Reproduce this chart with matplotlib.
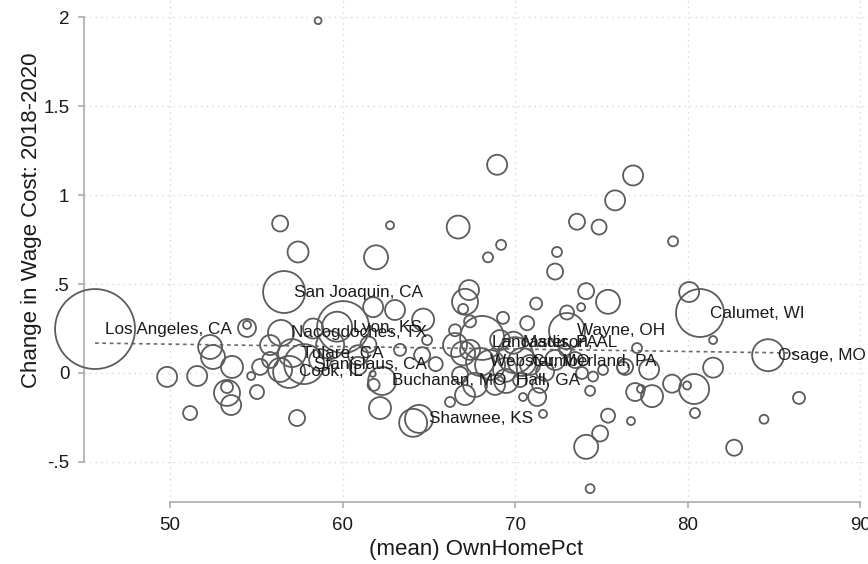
import matplotlib
matplotlib.use("Agg")
import matplotlib.pyplot as plt
import numpy as np

plt.rcParams["font.family"] = ["Liberation Sans", "DejaVu Sans"]

# county scatter: (mean) OwnHomePct vs change in wage cost, weighted markers
own_home = [
    58.58, 56.38, 57.42, 62.75, 66.70, 61.94, 69.19, 68.43, 72.43, 72.32,
    73.59, 74.87, 75.80, 76.84, 79.16, 68.96, 56.61, 54.46, 54.46, 56.43,
    60.03, 59.68, 61.77, 58.29, 63.04, 64.67, 67.33, 67.10, 66.99, 71.22,
    74.12, 73.83, 75.39, 69.30, 68.09, 73.01, 70.70, 73.01, 80.09, 80.72,
    81.48, 84.67, 77.07, 77.77, 81.48, 80.38, 79.97, 79.10, 76.96, 77.94,
    77.30, 76.38, 86.46, 84.43, 80.43, 76.72, 82.70, 74.35, 74.12, 74.93,
    75.39, 71.62, 71.28, 70.46, 74.35, 74.52, 75.10, 76.26, 64.09, 64.43,
    66.23, 67.10, 62.17, 62.29, 61.80, 61.75, 64.61, 63.33, 66.99, 45.65,
    52.32, 52.49, 53.59, 49.83, 51.57, 53.30, 53.30, 53.54, 51.16, 55.04,
    54.70, 55.22, 57.36, 57.77, 57.07, 56.90, 55.80, 56.38, 58.70, 59.28,
    55.80, 66.52, 67.39, 68.55, 69.42, 68.84, 70.00, 70.87, 71.74, 72.32,
    71.45, 70.29, 66.81, 67.68, 66.52, 67.39, 64.90, 69.13, 72.90, 73.48,
    73.88, 67.97, 70.41, 69.90, 69.48, 60.90, 61.50, 60.90, 65.40,
]
wage_change = [
    1.98, 0.84, 0.68, 0.83, 0.82, 0.65, 0.72, 0.65, 0.68, 0.57,
    0.85, 0.82, 0.97, 1.11, 0.74, 1.17, 0.455, 0.253, 0.27, 0.225,
    0.258, 0.26, 0.37, 0.25, 0.354, 0.30, 0.466, 0.40, 0.36, 0.39,
    0.46, 0.37, 0.40, 0.31, 0.197, 0.236, 0.28, 0.34, 0.455, 0.337,
    0.185, 0.10, 0.14, 0.02, 0.03, -0.09, -0.07, -0.06, -0.107, -0.13,
    -0.09, 0.034, -0.14, -0.26, -0.225, -0.27, -0.42, -0.65, -0.415, -0.34,
    -0.24, -0.23, -0.135, -0.135, -0.10, -0.02, 0.017, 0.03, -0.28, -0.258,
    -0.163, -0.124, -0.197, -0.045, -0.067, -0.005, 0.10, 0.13, 0.11, 0.247,
    0.146, 0.09, 0.034, -0.022, -0.017, -0.112, -0.079, -0.18, -0.225, -0.107,
    -0.017, 0.034, -0.253, 0.05, 0.112, 0.006, 0.157, 0.017, 0.073, 0.157,
    0.073, 0.157, 0.13, 0.045, 0.017, -0.067, 0.10, 0.045, 0.006, 0.073,
    -0.067, -0.04, -0.01, -0.067, 0.24, 0.29, 0.185, 0.185, 0.13, 0.073,
    0.0, 0.062, 0.062, 0.17, -0.045, 0.10, 0.16, 0.04, 0.05,
]
weight = [
    12, 64, 110, 16, 132, 144, 25, 25, 25, 64,
    64, 56, 100, 100, 25, 100, 441, 81, 16, 169,
    676, 225, 100, 100, 100, 121, 100, 169, 25, 36,
    64, 16, 144, 36, 484, 324, 49, 49, 100, 576,
    16, 256, 25, 100, 100, 225, 16, 81, 81, 121,
    16, 64, 36, 20, 25, 16, 64, 20, 144, 64,
    49, 16, 81, 16, 25, 25, 25, 36, 196, 196,
    25, 100, 121, 196, 36, 9, 64, 36, 144, 1600,
    144, 144, 121, 100, 100, 169, 36, 100, 49, 49,
    16, 64, 64, 400, 196, 256, 100, 144, 121, 196,
    64, 144, 100, 225, 144, 100, 324, 100, 81, 100,
    64, 49, 64, 144, 36, 36, 25, 100, 36, 64,
    36, 196, 196, 121, 144, 100, 64, 81, 49,
]

# labelled counties
label_names = ["Los Angeles, CA", "San Joaquin, CA", "Lyon, KS", "Nacogdoches, TX",
               "Tulare, CA", "Stanislaus, CA", "Cook, IL", "Buchanan, MO", "Hall, GA",
               "Shawnee, KS", "Lancaster, PA", "Madison, AL", "Wayne, OH",
               "Webster, MO", "Cumberland, PA", "Calumet, WI", "Osage, MO"]
label_x = [45.65, 56.61, 60.03, 56.43, 57.07, 57.77, 56.90, 62.29, 69.48,
           64.43, 68.09, 69.90, 73.01, 67.97, 70.41, 80.72, 84.67]
label_y = [0.247, 0.455, 0.258, 0.225, 0.112, 0.05, 0.006, -0.045, -0.045,
           -0.258, 0.17, 0.17, 0.236, 0.062, 0.062, 0.337, 0.10]

# linear fit endpoints
fit_x = [45.65, 86.46]
fit_y = [0.168, 0.112]

fig = plt.figure(figsize=(8.68, 5.64), dpi=100)
ax = fig.add_axes([84 / 868, 62 / 564, 784 / 868, 502 / 564])

ax.set_xlim(45.01, 90.46)
ax.set_ylim(-0.725, 2.096)

sizes = np.array(weight) * 2.07
ax.scatter(own_home, wage_change, s=sizes, facecolors="none",
           edgecolors="#5c5c5c", linewidths=1.3, clip_on=False, zorder=3)
ax.plot(fit_x, fit_y, color="#6a6a6a", linestyle=(0, (2.2, 2.2)),
        linewidth=1.2, zorder=2)

for name, lx, ly in zip(label_names, label_x, label_y):
    ax.annotate(name, (lx, ly), xytext=(7, 0), textcoords="offset points",
                ha="left", va="center", fontsize=12.3, color="#1a1a1a",
                zorder=4)

ax.set_xticks([50, 60, 70, 80, 90])
ax.set_yticks([-0.5, 0, 0.5, 1, 1.5, 2])
ax.set_yticklabels(["-.5", "0", ".5", "1", "1.5", "2"])
ax.grid(True, color="#d6d6d6", linestyle=(0, (1, 3)), linewidth=1)
ax.set_axisbelow(True)

for side in ["top", "right"]:
    ax.spines[side].set_visible(False)
for side in ["left", "bottom"]:
    ax.spines[side].set_color("#ababab")
    ax.spines[side].set_linewidth(1.2)
ax.spines["left"].set_bounds(-0.5, 2)
ax.spines["bottom"].set_bounds(50, 90)
ax.tick_params(axis="both", direction="out", length=4.5, width=1.2,
               color="#ababab", labelsize=13.5, labelcolor="#1a1a1a")
ax.tick_params(axis="x", pad=6)
ax.tick_params(axis="y", pad=6)

ax.set_xlabel("(mean) OwnHomePct", fontsize=16, color="#1a1a1a")
ax.set_ylabel("Change in Wage Cost: 2018-2020", fontsize=16, color="#1a1a1a")
ax.xaxis.set_label_coords(0.5, -0.074)
ax.yaxis.set_label_coords(-0.054, 0.562)

fig.savefig("out.png", dpi=100)
